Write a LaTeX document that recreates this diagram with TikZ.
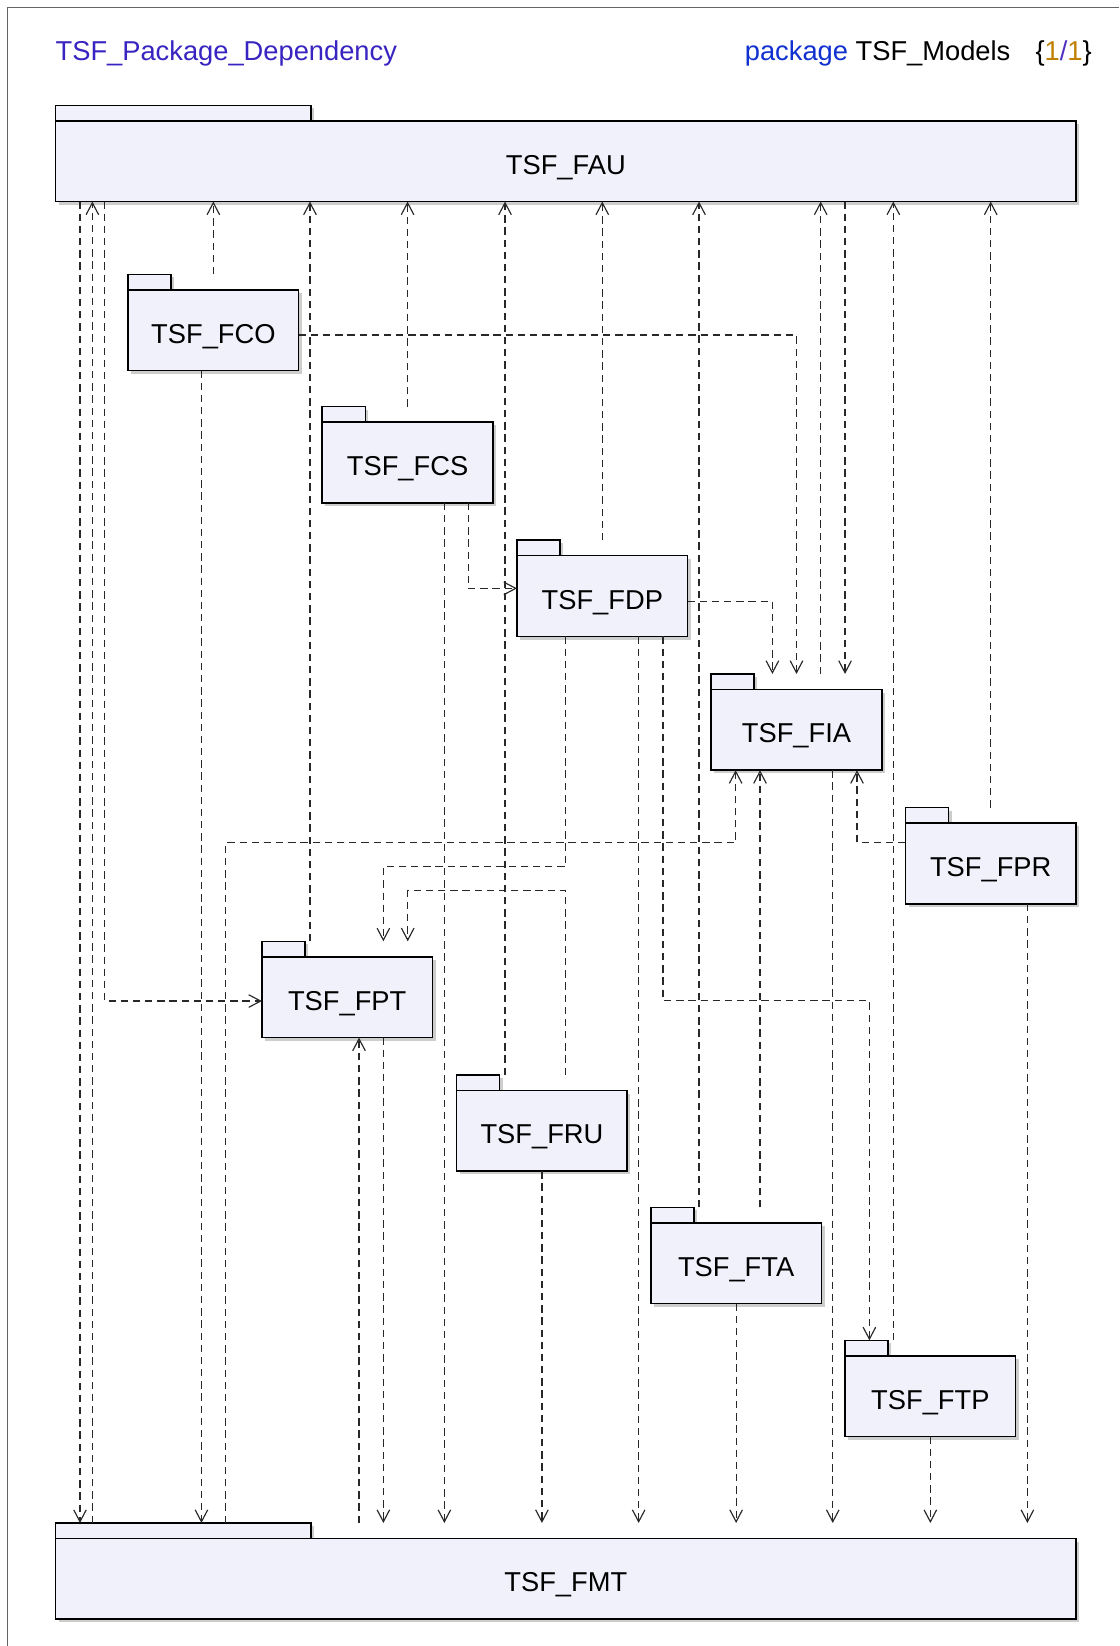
\documentclass[tikz,border=0pt]{standalone}
\usepackage{fontspec}
\setmainfont{Liberation Sans}
\usetikzlibrary{arrows.meta,calc}
\definecolor{pkgfill}{RGB}{241,241,252}
\definecolor{linec}{RGB}{40,40,40}
\definecolor{titlec}{RGB}{56,36,192}
\definecolor{kwc}{RGB}{16,48,208}
\definecolor{numc}{RGB}{192,128,0}
\definecolor{slashc}{RGB}{80,48,192}
\definecolor{shadowc}{RGB}{205,205,205}
\definecolor{framec}{RGB}{100,100,100}
\newcommand\pkgdraw[7]{% id, left x, body top y, w, h, tab w, label
  \fill[shadowc] (#2+3,#3-14.7+3) rectangle (#2+#6+3,#3+3);
  \fill[shadowc] (#2+3,#3+3) rectangle (#2+#4+3,#3+#5+3);
  \node[tabbox, minimum width=#6*0.5pt, minimum height=7.35pt] (#1tab) at (#2,#3) {};
  \node[pkgbox, minimum width=#4*0.5pt, minimum height=#5*0.5pt] (#1) at (#2,#3) {#7};
}
\newcommand\mkpt[3]{\path ($(#2)+(#3,0)$) coordinate (#1);}
\begin{document}
\begin{tikzpicture}[x=0.5pt,y=-0.5pt,
  pkgbox/.style={draw=black, line width=0.75pt, fill=pkgfill, inner sep=0pt, outer sep=0pt,
    font=\fontsize{13}{15}\selectfont, text height=12.5pt, text depth=0pt, anchor=north west},
  tabbox/.style={draw=black, line width=0.75pt, fill=pkgfill, inner sep=0pt, outer sep=0pt, anchor=south west},
  dep/.style={draw=linec, line width=0.55pt, dash pattern=on 3.5pt off 2.3pt,
    -{Straight Barb[length=5.7pt,width=6pt]}},
  hdr/.style={inner sep=0pt, outer sep=0pt, font=\fontsize{13}{15}\selectfont}
]
\useasboundingbox (0,0) rectangle (1066,1568);
\fill[white] (0,0) rectangle (1066,1568);
\draw[framec, line width=0.6pt] (7,1568) -- (7,7) -- (1066,7);

\node[hdr, anchor=base west, text=titlec] (title) at (53,57.5) {TSF\_Package\_Dependency};
\node[hdr, anchor=base east] (header) at (1040,57.5) {\textcolor{kwc}{package} TSF\_Models\hspace{12pt}\{\textcolor{numc}{1}\textcolor{slashc}{/}\textcolor{numc}{1}\}};

\pkgdraw{fau}{53}{115}{972}{77}{243}{TSF\_FAU}
\pkgdraw{fmt}{53}{1465.5}{972}{77}{243}{TSF\_FMT}
\pkgdraw{fco}{122}{276}{162.5}{77}{41}{TSF\_FCO}
\pkgdraw{fcs}{307}{402}{162.5}{77}{41}{TSF\_FCS}
\pkgdraw{fdp}{492.5}{529.3}{162.5}{77}{41}{TSF\_FDP}
\pkgdraw{fia}{677.5}{656.7}{162.5}{77}{41}{TSF\_FIA}
\pkgdraw{fpr}{862.5}{784}{162.5}{77}{41}{TSF\_FPR}
\pkgdraw{fpt}{249.5}{911.4}{162.5}{77}{41}{TSF\_FPT}
\pkgdraw{fru}{435}{1038.7}{162.5}{77}{41}{TSF\_FRU}
\pkgdraw{fta}{620}{1164.8}{162.5}{77}{41}{TSF\_FTA}
\pkgdraw{ftp}{805}{1291.5}{162.5}{77}{41}{TSF\_FTP}

% FAU -> FMT
\mkpt{c1}{fau.south west}{23.2}
\draw[dep] (c1) -- (c1 |- fmttab.north);
% FMT -> FAU
\mkpt{c2}{fmttab.north west}{35}
\draw[dep] (c2) -- (c2 |- fau.south);
% FAU -> FPT
\mkpt{c3}{fau.south west}{46.4}
\draw[dep] (c3) |- ($(fpt.west)+(0,3.7)$);
% FCO -> FAU
\draw[dep] (fco.north |- fcotab.north) -- (fco.north |- fau.south);
% FPT -> FAU
\mkpt{c5}{fpt.north west}{45.8}
\draw[dep] (c5 |- fpttab.north) -- (c5 |- fau.south);
% FCS -> FAU
\draw[dep] (fcs.north |- fcstab.north) -- (fcs.north |- fau.south);
% FRU -> FAU
\mkpt{c7}{fru.north west}{46.1}
\draw[dep] (c7 |- frutab.north) -- (c7 |- fau.south);
% FDP -> FAU
\draw[dep] (fdp.north |- fdptab.north) -- (fdp.north |- fau.south);
% FTA -> FAU
\mkpt{c9}{fta.north west}{45.9}
\draw[dep] (c9 |- ftatab.north) -- (c9 |- fau.south);
% FIA -> FAU
\mkpt{c10}{fia.north west}{104.3}
\draw[dep] (c10 |- fiatab.north) -- (c10 |- fau.south);
% FAU -> FIA
\mkpt{c11}{fia.north west}{127.5}
\draw[dep] (c11 |- fau.south) -- (c11 |- fiatab.north);
% FTP -> FAU
\mkpt{c12}{ftp.north west}{46}
\draw[dep] (c12 |- ftptab.north) -- (c12 |- fau.south);
% FPR -> FAU
\draw[dep] (fpr.north |- fprtab.north) -- (fpr.north |- fau.south);
% FCO -> FIA
\draw[dep] ($(fco.east)+(0,4.6)$) -| (fia.north |- fiatab.north);
% FCO -> FMT
\mkpt{c15}{fco.south west}{69.9}
\draw[dep] (c15) -- (c15 |- fmttab.north);
% FCS -> FMT
\mkpt{c16}{fcs.south west}{116.3}
\draw[dep] (c16) -- (c16 |- fmttab.north);
% FCS -> FDP
\mkpt{c17}{fcs.south west}{139.2}
\draw[dep] (c17) |- ($(fdp.west)+(0,-7.3)$);
% FDP -> FIA
\mkpt{c18}{fia.north west}{58.3}
\draw[dep] ($(fdp.east)+(0,4.8)$) -| (c18 |- fiatab.north);
% FDP -> FPT
\mkpt{c19}{fdp.south west}{46.4}
\mkpt{d19}{fpt.north west}{115.7}
\coordinate (k19) at (0,825.6);
\draw[dep] (c19) -- (c19 |- k19) -| (d19 |- fpttab.north);
% FDP -> FMT
\mkpt{c20}{fdp.south west}{115.9}
\draw[dep] (c20) -- (c20 |- fmttab.north);
% FDP -> FTP
\mkpt{c21}{fdp.south west}{139.1}
\mkpt{d21}{ftp.north west}{23.2}
\coordinate (k21) at (0,953.3);
\draw[dep] (c21) -- (c21 |- k21) -| (d21 |- ftptab.north);
% FIA -> FMT
\mkpt{c22}{fia.south west}{115.8}
\draw[dep] (c22) -- (c22 |- fmttab.north);
% FMT -> FIA
\mkpt{c23}{fmttab.north west}{162}
\mkpt{d23}{fia.south west}{23.3}
\coordinate (k23) at (0,802.8);
\draw[dep] (c23) -- (c23 |- k23) -| (d23);
% FTA -> FIA
\mkpt{c24}{fta.north west}{104}
\draw[dep] (c24 |- ftatab.north) -- (c24 |- fia.south);
% FPR -> FIA
\mkpt{d25}{fia.south west}{138.9}
\draw[dep] ($(fpr.west)+(0,-19.7)$) -| (d25);
% FPR -> FMT
\mkpt{c26}{fpr.south west}{116.2}
\draw[dep] (c26) -- (c26 |- fmttab.north);
% FRU -> FPT
\mkpt{c27}{fru.north west}{103.9}
\mkpt{d27}{fpt.north west}{138.9}
\coordinate (k27) at (0,848.6);
\draw[dep] (c27 |- frutab.north) -- (c27 |- k27) -| (d27 |- fpttab.north);
% FMT -> FPT
\mkpt{c28}{fpt.south west}{92.5}
\draw[dep] (c28 |- fmttab.north) -- (c28);
% FPT -> FMT
\mkpt{c29}{fpt.south west}{115.7}
\draw[dep] (c29) -- (c29 |- fmttab.north);
% FRU -> FMT
\draw[dep] (fru.south) -- (fru.south |- fmttab.north);
% FTA -> FMT
\draw[dep] (fta.south) -- (fta.south |- fmttab.north);
% FTP -> FMT
\draw[dep] (ftp.south) -- (ftp.south |- fmttab.north);
\end{tikzpicture}
\end{document}
